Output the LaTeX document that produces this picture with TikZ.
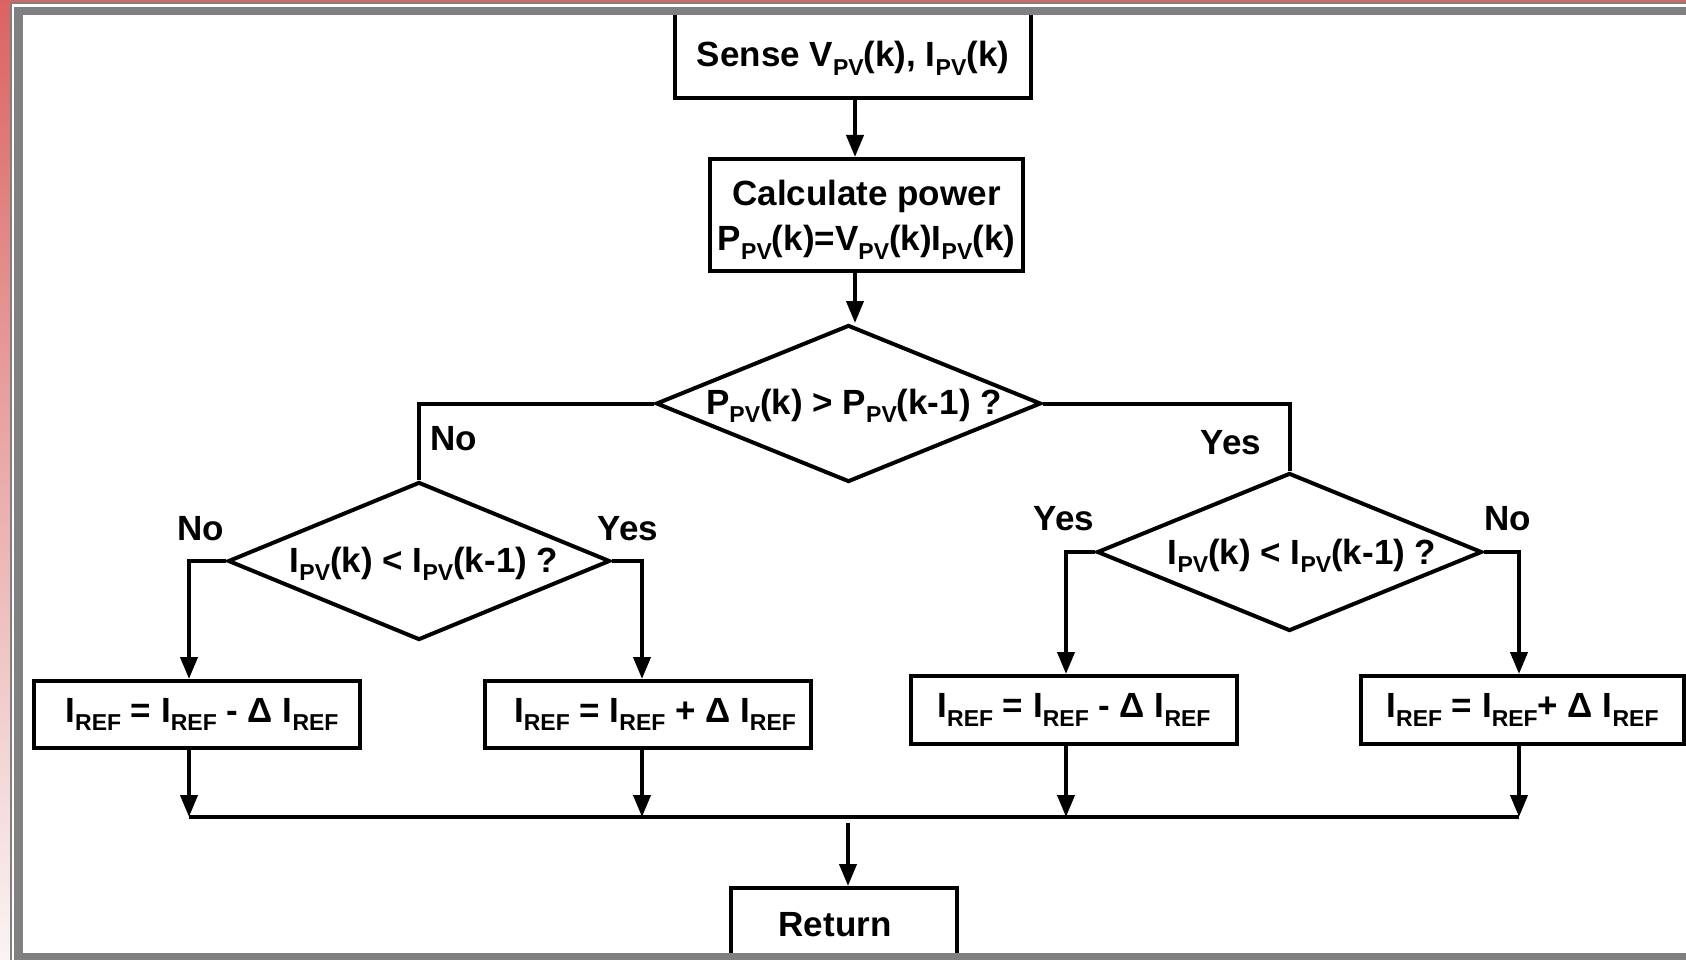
\documentclass[tikz,border=0pt]{standalone}
\usepackage{fontspec}
\setmainfont{Liberation Sans}
\usetikzlibrary{shapes.geometric,arrows.meta}
% lowered, smaller index text (PV, REF)
\newcommand{\sbs}[1]{\raisebox{-8.5pt}{\fontsize{23}{23}\selectfont #1}}
\definecolor{framegray}{HTML}{808080}
\definecolor{redtop}{HTML}{DA6462}
\definecolor{redbot}{HTML}{FAF4F4}

\begin{document}
\begin{tikzpicture}[x=1pt,y=-1pt,
  every node/.style={font=\fontsize{35}{45}\selectfont\bfseries},
  box/.style={draw, line width=4pt, inner sep=0pt},
  decision/.style={draw, diamond, line width=4pt, inner sep=0pt},
  link/.style={line width=4pt},
  arr/.style={line width=4pt, -{Triangle[length=22pt,width=17pt]}},
  tag/.style={inner sep=0pt}]
\useasboundingbox (0,0) rectangle (1686,960);
\fill[white] (0,0) rectangle (1686,960);

% process boxes
\node[box, minimum width=356pt, minimum height=86pt] (sense) at (853,55)
  {\rule{0pt}{32pt}Sense V\sbs{PV}(k), I\sbs{PV}(k)};
\node[box, minimum width=313pt, minimum height=112pt, align=center] (calc) at (866.5,215)
  {\rule{0pt}{35pt}Calculate power\\P\sbs{PV}(k)=V\sbs{PV}(k)I\sbs{PV}(k)};

% decisions
\node[decision, minimum width=385pt, minimum height=157pt] (d1) at (848.5,403.5) {};
\node[tag] (q1) at (854,406) {P\sbs{PV}(k) > P\sbs{PV}(k-1) ?};
\node[decision, minimum width=382pt, minimum height=158pt] (d2) at (419,561) {};
\node[tag] (q2) at (424,564) {I\sbs{PV}(k) < I\sbs{PV}(k-1) ?};
\node[decision, minimum width=385pt, minimum height=158pt] (d3) at (1289.5,552) {};
\node[tag] (q3) at (1302,556) {I\sbs{PV}(k) < I\sbs{PV}(k-1) ?};

% update boxes
\node[box, minimum width=326pt, minimum height=67pt] (l1) at (197,714.5) {I\sbs{REF} = I\sbs{REF} - Δ I\sbs{REF}\hspace*{-10pt}};
\node[box, minimum width=326pt, minimum height=67pt] (l2) at (648,714.5) {I\sbs{REF} = I\sbs{REF} + Δ I\sbs{REF}\hspace*{-14pt}};
\node[box, minimum width=326pt, minimum height=68pt] (r1) at (1074,710) {I\sbs{REF} = I\sbs{REF} - Δ I\sbs{REF}};
\node[box, minimum width=323pt, minimum height=68pt] (r2) at (1522.5,710) {I\sbs{REF} = I\sbs{REF}+ Δ I\sbs{REF}};

\node[box, minimum width=226pt, minimum height=74pt] (ret) at (844,925) {Return\hspace*{18pt}};

% branch labels
\node[tag] (lno) at (454,439) {No};
\node[tag] (lyes) at (1231,443) {Yes};
\node[tag] (l2no) at (201,529) {No};
\node[tag] (l2yes) at (628,529) {Yes};
\node[tag] (r3yes) at (1064,519) {Yes};
\node[tag] (r3no) at (1508,519) {No};

% connector columns
\coordinate (ax) at (855,0);
\coordinate (c1) at (189,0);
\coordinate (c2) at (642,0);
\coordinate (c3) at (1066,0);
\coordinate (c4) at (1519,0);
\coordinate (busL) at (189,817);
\coordinate (busR) at (1519,817);
\coordinate (rin) at (848,823);

\draw[arr] (sense.south -| ax) -- (calc.north -| ax);
\draw[arr] (calc.south -| ax) -- (d1.north -| ax);
\draw[link] (d1.west) -| (d2.north);
\draw[link] (d1.east) -| (d3.north);
\draw[arr] (d2.west) -| (c1 |- l1.north);
\draw[arr] (d2.east) -| (c2 |- l2.north);
\draw[arr] (d3.west) -| (c3 |- r1.north);
\draw[arr] (d3.east) -| (c4 |- r2.north);
\draw[link] (busL) -- (busR);
\draw[arr] (l1.south -| c1) -- (busL);
\draw[arr] (l2.south -| c2) -- (c2 |- busL);
\draw[arr] (r1.south -| c3) -- (c3 |- busL);
\draw[arr] (r2.south -| c4) -- (busR);
\draw[arr] (rin) -- (ret.north -| rin);

% frame
\shade[top color=redtop, bottom color=redbot] (0,0) rectangle (10,960);
\fill[redtop] (0,0) rectangle (1686,2.5);
\fill[framegray] (10,2.5) rectangle (1686,4.3);
\fill[framegray] (10,2.5) rectangle (12,960);
\fill[framegray] (14,7) rectangle (1686,15);
\fill[framegray] (14,7) rectangle (22.5,960);
\fill[framegray] (14,953) rectangle (1686,960);
\end{tikzpicture}
\end{document}
